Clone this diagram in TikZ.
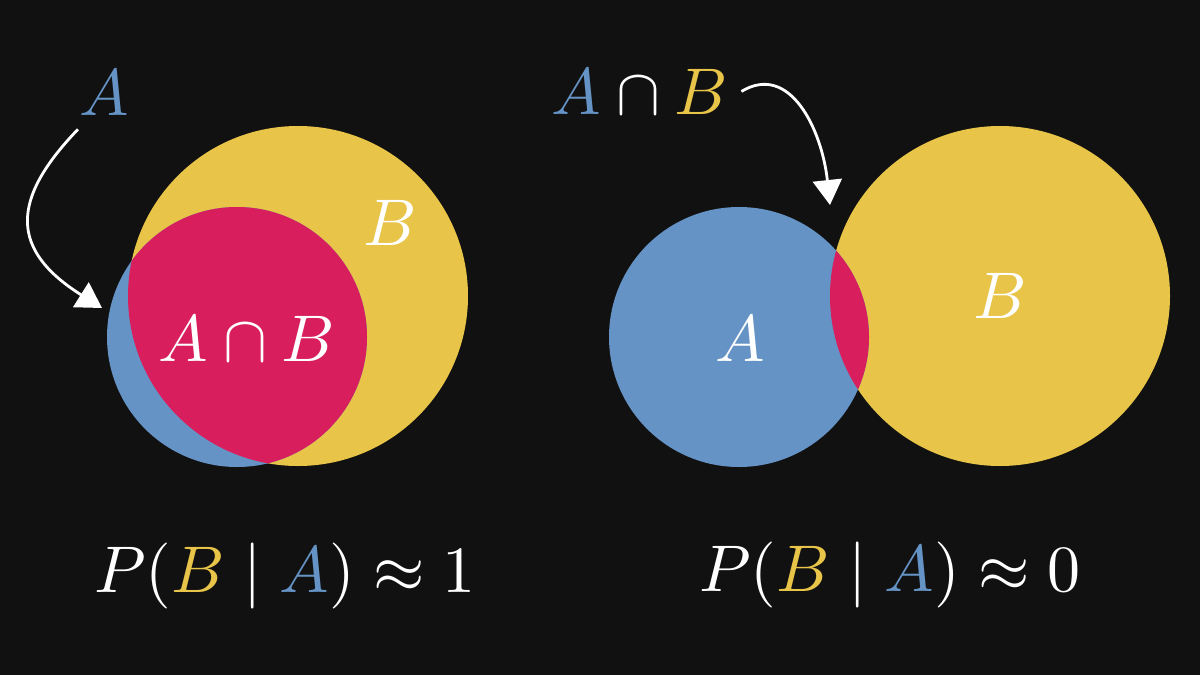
\documentclass[tikz,border=0pt]{standalone}
\usepackage{xcolor}
\usepackage{tikz}
\usetikzlibrary{arrows.meta}
\definecolor{clrA}{RGB}{101,147,197}
\definecolor{clrB}{RGB}{232,196,72}
\definecolor{clrAB}{RGB}{216,30,92}
\definecolor{bgD}{RGB}{17,17,17}
\tikzset{
  setA/.style={fill=clrA},
  setB/.style={fill=clrB},
  setAB/.style={fill=clrAB},
  lbl/.style={inner sep=0pt,anchor=base,text=white,font=\normalsize,
    scale=6.6,transform shape},
  arrow/.style={-{Triangle[length=25pt,width=29pt]},line width=2.8pt,color=white}
}

\begin{document}
\begin{tikzpicture}[x=1pt,y=-1pt]
  \def\rA{130}
  \def\rB{170}
  \path[use as bounding box,fill=bgD] (0,0) rectangle (1200,675);

  % left: A lies mostly inside B
  \coordinate (cBl) at (298,296);
  \coordinate (cAl) at (237,337);
  \fill[setB] (cBl) circle[radius=\rB];
  \fill[setA] (cAl) circle[radius=\rA];
  \begin{scope}
    \clip (cAl) circle[radius=\rA];
    \fill[setAB] (cBl) circle[radius=\rB];
  \end{scope}

  \node[lbl,text=clrA] (lblAl) at (104,115) {$A$};
  \node[lbl] (lblBl) at (390,245) {$B$};
  \node[lbl] (lblABl) at (247,361) {$A\cap B$};
  \node[lbl] (probL) at (285,592)
    {$P(\textcolor{clrB}{B}\mid\textcolor{clrA}{A})\approx 1$};

  \coordinate (tipAl) at (102,308);
  \draw[arrow] ([yshift=-13pt]lblAl.south west)
    .. controls (10,200) and (10,250) .. (tipAl);

  % right: A and B barely overlap
  \coordinate (cBr) at (1000,296);
  \coordinate (cAr) at (739,337);
  \fill[setB] (cBr) circle[radius=\rB];
  \fill[setA] (cAr) circle[radius=\rA];
  \begin{scope}
    \clip (cAr) circle[radius=\rA];
    \fill[setAB] (cBr) circle[radius=\rB];
  \end{scope}

  \node[lbl] (lblABr) at (640,114)
    {$\textcolor{clrA}{A}\cap\textcolor{clrB}{B}$};
  \node[lbl] (lblAr) at (740,361) {$A$};
  \node[lbl] (lblBr) at (1000,318) {$B$};
  \node[lbl] (probR) at (890,591)
    {$P(\textcolor{clrB}{B}\mid\textcolor{clrA}{A})\approx 0$};

  \coordinate (tipABr) at (830,205);
  \draw[arrow] ([xshift=12pt]lblABr.east)
    .. controls (790,62) and (822,130) .. (tipABr);
\end{tikzpicture}
\end{document}
